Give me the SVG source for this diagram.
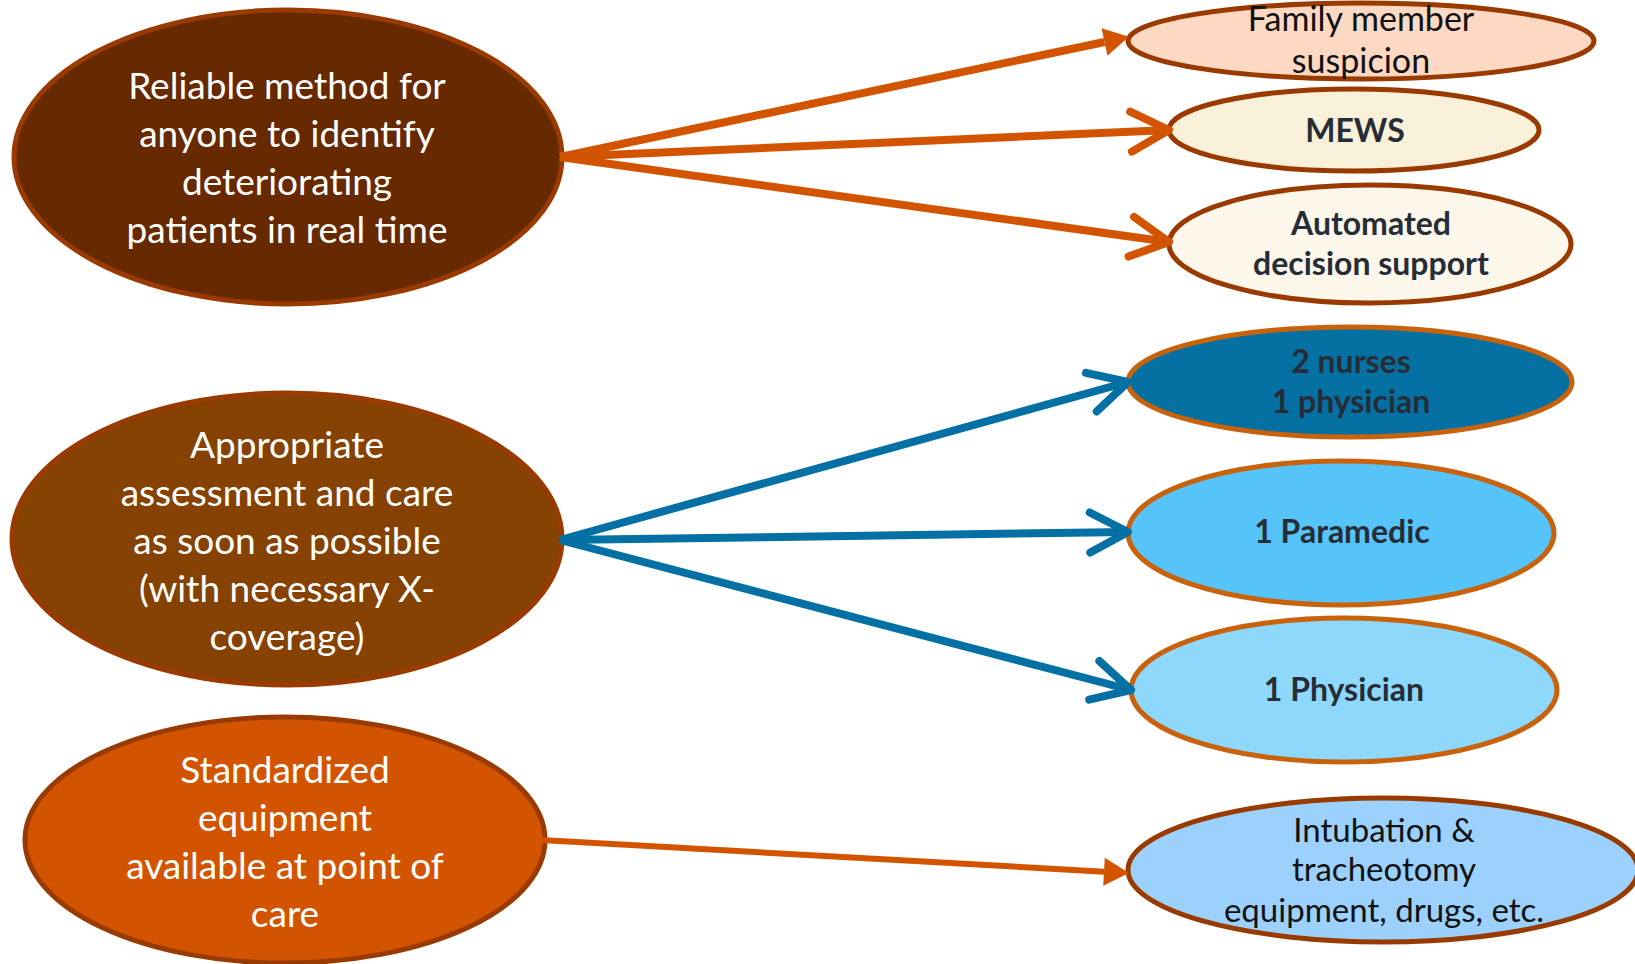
<svg xmlns="http://www.w3.org/2000/svg" width="1635" height="964" viewBox="0 0 1635 964">
  <style>
    .goal { stroke: #993a00; stroke-width: 5; }
    .opt-warm { stroke: #993a00; stroke-width: 5; }
    .opt-blue { stroke: #c8620c; stroke-width: 5; }
    .t-goal { font-family: Lato, "Open Sans", sans-serif; font-size: 37px; fill: #ffffff; text-anchor: middle; }
    .t-plain { font-family: Lato, "Open Sans", sans-serif; font-size: 33px; fill: #111111; text-anchor: middle; }
    .t-family { font-size: 34px; }
    .t-bold { font-family: Lato, "Open Sans", sans-serif; font-size: 32px; font-weight: bold; fill: #262d36; text-anchor: middle; }
    .c-orange { stroke: #d35400; stroke-width: 8; fill: none; }
    .c-orange-thin { stroke: #d35400; stroke-width: 6; fill: none; }
    .c-blue { stroke: #0570a3; stroke-width: 8; fill: none; }
  </style>
  <defs>
    <marker id="tri-orange" markerUnits="userSpaceOnUse" orient="auto" refX="0" refY="0" markerWidth="60" markerHeight="60" overflow="visible">
      <path d="M0,-14 L25,0 L0,14 Z" fill="#d35400"/>
    </marker>
    <marker id="chev-orange" markerUnits="userSpaceOnUse" orient="auto" refX="0" refY="0" markerWidth="80" markerHeight="80" overflow="visible">
      <path d="M-38,-20 L0,0 L-38,20" fill="none" stroke="#d35400" stroke-width="8" stroke-linecap="round" stroke-linejoin="round"/>
    </marker>
    <marker id="chev-blue" markerUnits="userSpaceOnUse" orient="auto" refX="0" refY="0" markerWidth="80" markerHeight="80" overflow="visible">
      <path d="M-38,-20 L0,0 L-38,20" fill="none" stroke="#0570a3" stroke-width="8" stroke-linecap="round" stroke-linejoin="round"/>
    </marker>
  </defs>

  <rect width="1635" height="964" fill="#ffffff"/>

  <!-- goal: detection -->
  <g id="node-reliable">
    <ellipse cx="288" cy="157" rx="274" ry="147" fill="#662900" class="goal"/>
    <text class="t-goal" x="287" y="99">Reliable method for</text>
    <text class="t-goal" x="287" y="147">anyone to identify</text>
    <text class="t-goal" x="287" y="195">deteriorating</text>
    <text class="t-goal" x="287" y="243">patients in real time</text>
  </g>

  <!-- goal: response -->
  <g id="node-appropriate">
    <ellipse cx="287" cy="539" rx="275" ry="146" fill="#854203" class="goal"/>
    <text class="t-goal" x="287" y="458">Appropriate</text>
    <text class="t-goal" x="287" y="506">assessment and care</text>
    <text class="t-goal" x="287" y="554">as soon as possible</text>
    <text class="t-goal" x="287" y="602">(with necessary X-</text>
    <text class="t-goal" x="287" y="650">coverage)</text>
  </g>

  <!-- goal: equipment -->
  <g id="node-standardized">
    <ellipse cx="285" cy="840" rx="260" ry="123" fill="#d35400" class="goal"/>
    <text class="t-goal" x="285" y="783">Standardized</text>
    <text class="t-goal" x="285" y="831">equipment</text>
    <text class="t-goal" x="285" y="879">available at point of</text>
    <text class="t-goal" x="285" y="927">care</text>
  </g>

  <g id="node-family">
    <ellipse cx="1361" cy="41" rx="233" ry="38" fill="#fdd9c3" class="opt-warm"/>
    <text class="t-plain t-family" x="1361" y="31">Family member</text>
    <text class="t-plain t-family" x="1361" y="73">suspicion</text>
  </g>

  <g id="node-mews">
    <ellipse cx="1354" cy="130" rx="185" ry="41" fill="#f8f0d8" class="opt-warm"/>
    <text class="t-bold" x="1355" y="142">MEWS</text>
  </g>

  <g id="node-automated">
    <ellipse cx="1370" cy="244" rx="201" ry="59" fill="#fcf7ea" class="opt-warm"/>
    <text class="t-bold" x="1371" y="235">Automated</text>
    <text class="t-bold" x="1371" y="275">decision support</text>
  </g>

  <g id="node-nurses">
    <ellipse cx="1350" cy="382" rx="222" ry="55" fill="#0570a2" class="opt-blue"/>
    <text class="t-bold" x="1351" y="373">2 nurses</text>
    <text class="t-bold" x="1351" y="413">1 physician</text>
  </g>

  <g id="node-paramedic">
    <ellipse cx="1341" cy="533" rx="213" ry="72" fill="#56c4f9" class="opt-blue"/>
    <text class="t-bold" x="1342" y="543">1 Paramedic</text>
  </g>

  <g id="node-physician">
    <ellipse cx="1344" cy="690" rx="213" ry="72" fill="#8ed8fb" class="opt-blue"/>
    <text class="t-bold" x="1344" y="701">1 Physician</text>
  </g>

  <g id="node-intubation">
    <ellipse cx="1383" cy="870" rx="255" ry="72" fill="#9cd1fd" class="opt-warm"/>
    <text class="t-plain" x="1384" y="842">Intubation &amp;</text>
    <text class="t-plain" x="1384" y="881">tracheotomy</text>
    <text class="t-plain" x="1384" y="922">equipment, drugs, etc.</text>
  </g>

  <g id="connectors">
    <line class="c-orange" x1="560" y1="157" x2="1104.5" y2="42" marker-end="url(#tri-orange)"/>
    <line class="c-orange" x1="560" y1="157" x2="1169" y2="130" marker-end="url(#chev-orange)"/>
    <line class="c-orange" x1="560" y1="157" x2="1169" y2="242" marker-end="url(#chev-orange)"/>
    <line class="c-blue" x1="560" y1="540" x2="1128" y2="382" marker-end="url(#chev-blue)"/>
    <line class="c-blue" x1="560" y1="540" x2="1128" y2="532" marker-end="url(#chev-blue)"/>
    <line class="c-blue" x1="560" y1="540" x2="1131" y2="690" marker-end="url(#chev-blue)"/>
    <line class="c-orange-thin" x1="541" y1="840" x2="1104" y2="871.7" marker-end="url(#tri-orange)"/>
  </g>
</svg>
